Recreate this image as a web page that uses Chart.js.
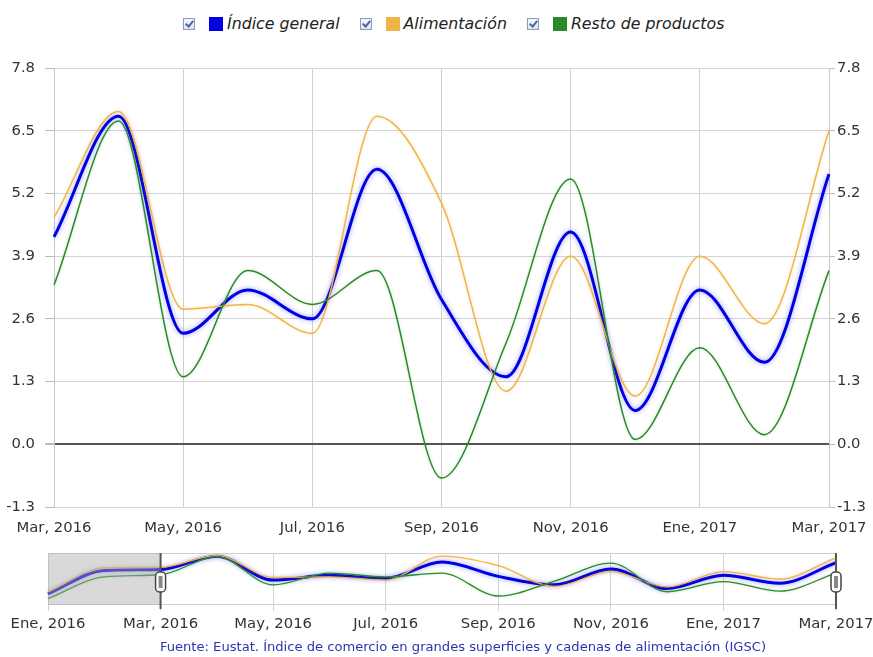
<!DOCTYPE html>
<html>
<head>
<meta charset="utf-8">
<script src="https://cdn.jsdelivr.net/npm/chart.js@4.4.1/dist/chart.umd.min.js"></script>
<style>
  html, body { margin: 0; padding: 0; background: #fff; }
  body { width: 873px; height: 657px; position: relative; overflow: hidden; font-family: "DejaVu Sans", Verdana, sans-serif; }
  #main { position: absolute; left: 0; top: 0; }
  #nav { position: absolute; left: 0; top: 545px; }
  #legend { position: absolute; top: 14px; left: 183px; display: flex; align-items: center; font-size: 15.8px; font-style: italic; color: #222; white-space: nowrap; }
  .cb { width: 10px; height: 10px; border: 1px solid #8c9bb8; background: linear-gradient(#f4f6fb, #dfe5f0); position: relative; margin-right: 14px; }
  .cb::after { content: ""; position: absolute; left: 3px; top: 0px; width: 3px; height: 6px; border: solid #4a62b0; border-width: 0 2px 2px 0; transform: rotate(40deg); }
  .sq { width: 14px; height: 14px; margin-right: 4px; }
  .lt { margin-right: 20px; }
  #foot { position: absolute; top: 639px; left: 0; width: 926px; text-align: center; font-size: 13.1px; color: #2a35b0; }
</style>
</head>
<body>
<div id="legend"></div>
<canvas id="main" width="873" height="545"></canvas>
<canvas id="nav" width="873" height="100"></canvas>
<div id="foot">Fuente: Eustat. Índice de comercio en grandes superficies y cadenas de alimentación (IGSC)</div>
<script>
// ---- Data ----
const months = ['Ene, 2016','Feb, 2016','Mar, 2016','Abr, 2016','May, 2016','Jun, 2016','Jul, 2016','Ago, 2016','Sep, 2016','Oct, 2016','Nov, 2016','Dic, 2016','Ene, 2017','Feb, 2017','Mar, 2017'];
const indiceGeneral = [-0.3, 4.1, 4.3, 6.8, 2.3, 3.2, 2.6, 5.7, 3.0, 1.4, 4.4, 0.7, 3.2, 1.7, 5.6];
const alimentacion  = [ 0.1, 4.6, 4.7, 6.9, 2.8, 2.9, 2.3, 6.8, 5.0, 1.1, 3.9, 1.0, 3.9, 2.5, 6.5];
const restoProductos= [-1.2, 2.9, 3.3, 6.7, 1.4, 3.6, 2.9, 3.6,-0.7, 2.1, 5.5, 0.1, 2.0, 0.2, 3.6];
const seriesNames = ['Índice general', 'Alimentación', 'Resto de productos'];
const yTicks = [-1.3, 0.0, 1.3, 2.6, 3.9, 5.2, 6.5, 7.8];
const mainStart = 2; // main view starts at Mar, 2016

// ---- Styles ----
const colors = ['#0000e0', '#f0b448', '#2a8a2a'];
const widths = [3, 1.5, 1.5];
const glows = ['rgba(110,110,255,0.7)', 'rgba(240,180,72,0.35)', 'rgba(42,138,42,0.25)'];
const fontFam = '"DejaVu Sans", Verdana, sans-serif';

// legend
const leg = document.getElementById('legend');
seriesNames.forEach((n, i) => {
  const cb = document.createElement('span'); cb.className = 'cb'; leg.appendChild(cb);
  const sq = document.createElement('span'); sq.className = 'sq'; sq.style.background = colors[i]; leg.appendChild(sq);
  const t = document.createElement('span'); t.className = 'lt'; t.textContent = n; leg.appendChild(t);
});

const glowPlugin = {
  id: 'glow',
  beforeDatasetDraw(chart, args) {
    const ctx = chart.ctx; ctx.save();
    ctx.shadowColor = glows[args.index];
    ctx.shadowBlur = args.index === 0 ? 5 : 3;
  },
  afterDatasetDraw(chart) { chart.ctx.restore(); }
};

const series = [indiceGeneral, alimentacion, restoProductos];
function makeDatasets(start) {
  return series.map((s, i) => ({
    label: seriesNames[i],
    data: s.slice(start),
    borderColor: colors[i],
    borderWidth: widths[i],
    pointRadius: 0,
    cubicInterpolationMode: 'monotone',
    fill: false,
    order: 3 - i
  }));
}

const tickFont = { family: fontFam, size: 14.8 };
const mainLabels = months.slice(mainStart);

new Chart(document.getElementById('main'), {
  type: 'line',
  data: { labels: mainLabels, datasets: makeDatasets(mainStart) },
  plugins: [glowPlugin],
  options: {
    responsive: false, animation: false,
    layout: { padding: { top: 68, left: 0, right: 0, bottom: 0 } },
    plugins: { legend: { display: false }, tooltip: { enabled: false } },
    scales: {
      x: {
        offset: false,
        afterFit(s) { s.height = 38; s.paddingLeft = 0; s.paddingRight = 0; },
        grid: { color: c => (c.index % 2 === 0 ? '#cfcfcf' : 'rgba(0,0,0,0)'), drawTicks: false, lineWidth: 1 },
        border: { display: false },
        ticks: { autoSkip: false, maxRotation: 0, padding: 12, color: '#333', font: tickFont,
          callback: function(v, i) { return i % 2 === 0 ? this.getLabelForValue(v) : ''; } }
      },
      y: {
        position: 'left', min: -1.3, max: 7.8,
        afterFit(s) { s.width = 54; },
        afterBuildTicks(s) { s.ticks = yTicks.map(v => ({ value: v })); },
        grid: { color: c => (c.tick && c.tick.value === 0 ? '#555' : '#d4d4d4'), lineWidth: c => (c.tick && c.tick.value === 0 ? 2 : 1), tickLength: 9, tickColor: '#bbb' },
        border: { color: '#c8c8c8' },
        ticks: { padding: 10, color: '#333', font: tickFont, callback: v => Number(v).toFixed(1) }
      },
      y2: {
        position: 'right', min: -1.3, max: 7.8,
        afterFit(s) { s.width = 44; },
        afterBuildTicks(s) { s.ticks = yTicks.map(v => ({ value: v })); },
        grid: { drawOnChartArea: false, tickLength: 6, color: '#bbb' },
        border: { color: '#c8c8c8' },
        ticks: { padding: 2, color: '#333', font: tickFont, callback: v => Number(v).toFixed(1) }
      }
    }
  }
});

const navPlugin = {
  id: 'navDecor',
  afterDatasetsDraw(chart) {
    const { ctx, chartArea: a, scales: { x } } = chart;
    ctx.save();
    ctx.strokeStyle = '#cfcfcf'; ctx.lineWidth = 1;
    ctx.beginPath(); ctx.moveTo(a.left, a.top + 0.5); ctx.lineTo(a.right, a.top + 0.5);
    ctx.moveTo(a.left, a.bottom - 0.5); ctx.lineTo(a.right, a.bottom - 0.5); ctx.stroke();
    const xs = x.getPixelForValue(mainStart);
    ctx.fillStyle = 'rgba(170,170,170,0.45)';
    ctx.fillRect(a.left, a.top, xs - a.left, a.bottom - a.top);
    [xs, x.getPixelForValue(months.length - 1)].forEach(px => {
      ctx.strokeStyle = '#555'; ctx.lineWidth = 2;
      ctx.beginPath(); ctx.moveTo(px, a.top); ctx.lineTo(px, a.bottom + 4); ctx.stroke();
      const hw = 10, hh = 20, cy = (a.top + a.bottom) / 2 + 3;
      ctx.beginPath();
      ctx.roundRect(px - hw / 2, cy - hh / 2, hw, hh, 4);
      ctx.fillStyle = '#fff'; ctx.fill();
      ctx.lineWidth = 1.5; ctx.strokeStyle = '#444'; ctx.stroke();
      ctx.fillStyle = '#888';
      ctx.fillRect(px - 2, cy - 6, 4, 12);
    });
    ctx.restore();
  }
};

const navDs = makeDatasets(0);
navDs.forEach((d, i) => { d.borderWidth = i === 0 ? 3 : 1.3; });

new Chart(document.getElementById('nav'), {
  type: 'line',
  data: { labels: months, datasets: navDs },
  plugins: [glowPlugin, navPlugin],
  options: {
    responsive: false, animation: false,
    layout: { padding: { top: 8, left: 48, right: 37, bottom: 0 } },
    plugins: { legend: { display: false }, tooltip: { enabled: false } },
    scales: {
      x: {
        offset: false,
        afterFit(s) { s.height = 40; s.paddingLeft = 0; s.paddingRight = 0; },
        grid: { color: c => (c.index % 2 === 0 ? '#d4d4d4' : 'rgba(0,0,0,0)'), drawTicks: true, tickLength: 6, lineWidth: 1 },
        border: { display: false },
        ticks: { autoSkip: false, maxRotation: 0, padding: 4, color: '#333', font: tickFont,
          callback: function(v, i) { return i % 2 === 0 ? this.getLabelForValue(v) : ''; } }
      },
      y: { display: false, min: -2.4, max: 7.4 }
    }
  }
});
</script>
</body>
</html>
